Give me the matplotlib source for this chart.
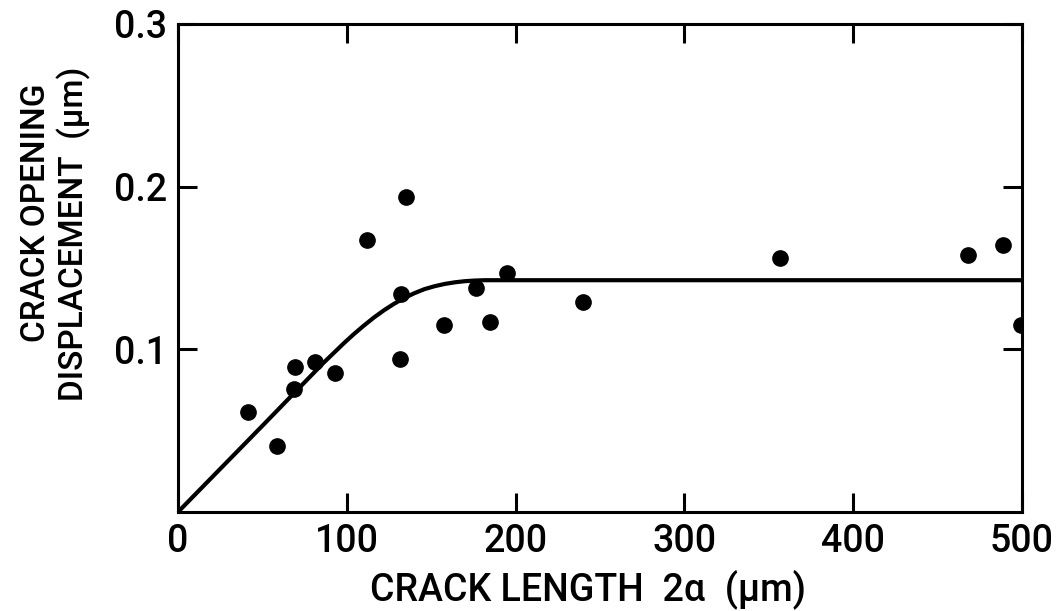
import matplotlib
matplotlib.use("Agg")
import matplotlib.pyplot as plt

# Data points (crack length 2a in um, COD in um)
crack_length = [41.5, 58.6, 69.3, 68.7, 81.2, 93.0, 112.0, 135.0, 132.0, 131.5,
                157.6, 176.5, 185.0, 195.0, 240.0, 356.6, 468.0, 489.0, 499.4]
cod = [0.0615, 0.0406, 0.089, 0.0756, 0.0922, 0.0854, 0.167, 0.1936, 0.134, 0.094,
       0.115, 0.1377, 0.1168, 0.147, 0.129, 0.156, 0.158, 0.164, 0.115]

# Fitted curve, points
curve_x = [0, 50, 86, 92, 98, 104, 110, 116, 122, 128, 134, 140, 146, 152, 158, 164, 170, 176, 182, 190, 500]
curve_y = [0, 0.053, 0.0915, 0.0975, 0.1035, 0.1092, 0.1145, 0.1195, 0.124, 0.128, 0.1315,
           0.1345, 0.137, 0.1388, 0.1402, 0.1412, 0.1419, 0.1423, 0.1425, 0.1425, 0.1425]

x_ticks = [0, 100, 200, 300, 400, 500]
x_ticklabels = ["0", "100", "200", "300", "400", "500"]
y_ticks = [0.1, 0.2, 0.3]
y_ticklabels = ["0.1", "0.2", "0.3"]

FONT = ["Roboto", "DejaVu Sans"]

fig = plt.figure(figsize=(10.57, 6.11), dpi=100)
ax = fig.add_axes([178/1057, 99/611, (1022-178)/1057, (512-24)/611])

ax.plot(curve_x, curve_y, color="black", lw=3.0, solid_capstyle="round",
        solid_joinstyle="round", zorder=2)
ax.plot(crack_length, cod, "o", color="black", ms=11, zorder=3)

ax.set_xlim(0, 500)
ax.set_ylim(0, 0.3)
ax.set_xticks(x_ticks)
ax.set_xticklabels(x_ticklabels)
ax.set_yticks(y_ticks)
ax.set_yticklabels(y_ticklabels)

for s in ax.spines.values():
    s.set_linewidth(2.2)

ax.tick_params(direction="in", length=14, width=2.2, top=True, right=True,
               labelsize=27, pad=8)
for lab in ax.get_xticklabels() + ax.get_yticklabels():
    lab.set_family(FONT)
    lab.set_fontweight("medium")

fig.text(588/1057, 1 - 589/611, "CRACK LENGTH  2ɑ  (µm)", ha="center", va="center",
         fontsize=27, family=FONT, fontweight="medium")
fig.text(36/1057, 1 - 213/611, "CRACK OPENING", ha="center", va="center",
         rotation=90, fontsize=24, family=FONT, fontweight="medium")
fig.text(74/1057, 1 - 234/611, "DISPLACEMENT  (µm)", ha="center", va="center",
         rotation=90, fontsize=24, family=FONT, fontweight="medium")

fig.savefig("out.png", dpi=100)
